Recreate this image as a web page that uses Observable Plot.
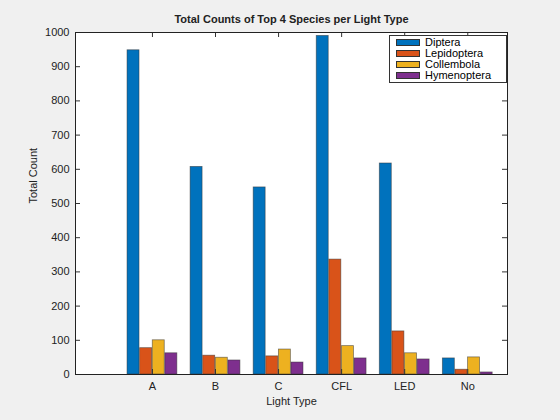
<!DOCTYPE html>
<html><head>
<script src="https://cdn.jsdelivr.net/npm/d3@7"></script>
<script src="https://cdn.jsdelivr.net/npm/@observablehq/plot@0.6"></script>
<style>
body{margin:0;background:#f0f0f0;font-family:"Liberation Sans",Arial,sans-serif}
#wrap{position:relative;width:560px;height:420px}
#legend{position:absolute;left:389px;top:35px;width:116px;background:#fff;border:1px solid #333;font-size:11px;padding:1px 0}
#legend div{display:flex;align-items:center;height:11px;line-height:11px}
#legend span{display:inline-block;width:24px;height:7px;margin:0 5px 0 6px;border:1px solid #333;box-sizing:border-box}
</style></head>
<body><div id="wrap"><div id="legend"></div></div>
<script>
const lights = ["A", "B", "C", "CFL", "LED", "No"];
const species = ["Diptera", "Lepidoptera", "Collembola", "Hymenoptera"];
const colors = ["#0072BD", "#D95319", "#EDB120", "#7E2F8E"];
const counts = {
  Diptera:     [948, 607, 547, 990, 617, 47],
  Lepidoptera: [77, 55, 53, 336, 126, 14],
  Collembola:  [100, 49, 73, 83, 62, 50],
  Hymenoptera: [62, 41, 35, 47, 44, 6]
};
const yTicks = d3.range(0, 1001, 100);
const xMin = -0.22, xMax = 6.63;

const rows = [];
species.forEach((s, j) => lights.forEach((l, i) => {
  const c = i + 1 + (j - 1.5) * 0.2;
  rows.push({species: s, x1: c - 0.095, x2: c + 0.095, value: counts[s][i]});
}));

const tick = (xMax - xMin) * 5 / 432, tickY = 1000 * 5 / 342;
const plot = Plot.plot({
  width: 560, height: 420,
  marginTop: 32, marginLeft: 75, marginRight: 53, marginBottom: 46,
  style: {background: "#f0f0f0", fontSize: "11px", fontFamily: "Liberation Sans, Arial, sans-serif", color: "#222"},
  x: {domain: [xMin, xMax]},
  y: {domain: [0, 1000]},
  color: {domain: species, range: colors},
  marks: [
    Plot.frame({fill: "white", stroke: null}),
    Plot.rectY(rows, {x1: "x1", x2: "x2", y: "value", fill: "species", stroke: "#333", strokeOpacity: 0.6, strokeWidth: 0.8}),
    Plot.ruleY(yTicks, {y: d => d, x1: xMin, x2: xMin + tick, stroke: "#333"}),
    Plot.ruleY(yTicks, {y: d => d, x1: xMax - tick, x2: xMax, stroke: "#333"}),
    Plot.ruleX(d3.range(1, 7), {x: d => d, y1: 0, y2: tickY, stroke: "#333"}),
    Plot.ruleX(d3.range(1, 7), {x: d => d, y1: 1000 - tickY, y2: 1000, stroke: "#333"}),
    Plot.axisY(yTicks, {tickSize: 0, tickPadding: 6, tickFormat: d => String(d), label: null}),
    Plot.axisX(d3.range(1, 7), {tickSize: 0, tickPadding: 8, tickFormat: d => lights[d - 1], label: null}),
    Plot.frame({stroke: "#222"}),
    Plot.text(["Total Counts of Top 4 Species per Light Type"], {frameAnchor: "top", dy: -17, fontWeight: "bold", fontSize: 11}),
    Plot.text(["Light Type"], {frameAnchor: "bottom", dy: 30, fontSize: 11}),
    Plot.text(["Total Count"], {frameAnchor: "left", dx: -42, rotate: -90, fontSize: 11})
  ]
});
document.getElementById("wrap").prepend(plot);
const lg = document.getElementById("legend");
species.forEach((s, j) => {
  const d = document.createElement("div");
  d.innerHTML = `<span style="background:${colors[j]}"></span>${s}`;
  lg.appendChild(d);
});
</script></body></html>
